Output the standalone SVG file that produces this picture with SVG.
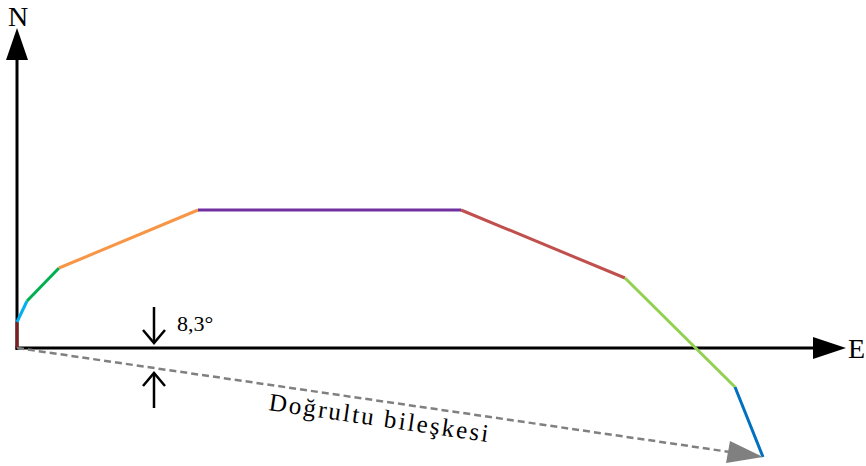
<svg xmlns="http://www.w3.org/2000/svg" width="866" height="466" viewBox="0 0 866 466">
<style>
.ax{stroke:#000;stroke-width:3;fill:none}
.seg{stroke-width:3;fill:none;stroke-linecap:butt}
.t{font-family:"Liberation Serif","Times New Roman",serif;fill:#000}
.ar{stroke:#000;stroke-width:2.5;fill:none}
</style>
<rect width="866" height="466" fill="#fff"/>
<g id="axes">
<line class="ax" x1="17" y1="350" x2="17" y2="58"/>
<polygon points="17,28 6,60 28,60" fill="#000"/>
<line class="ax" x1="15.5" y1="348" x2="815" y2="348"/>
<polygon points="846,348 813,337 813,359" fill="#000"/>
<text class="t" x="8" y="26" font-size="28">N</text>
<text class="t" x="848" y="358" font-size="28">E</text>
</g>
<g id="path">
<line class="seg" stroke="#7b1f1f" x1="17" y1="348" x2="17" y2="322"/>
<line class="seg" stroke="#00b0f0" x1="17" y1="322" x2="27" y2="301"/>
<line class="seg" stroke="#00b050" x1="27" y1="301" x2="59" y2="268"/>
<line class="seg" stroke="#f79646" x1="59" y1="268" x2="198" y2="210"/>
<line class="seg" stroke="#7030a0" x1="198" y1="210" x2="461" y2="210"/>
<line class="seg" stroke="#c0504d" x1="461" y1="210" x2="625" y2="278"/>
<line class="seg" stroke="#92d050" x1="625" y1="278" x2="735" y2="387"/>
<line class="seg" stroke="#0070c0" x1="735" y1="387" x2="763" y2="457"/>
</g>
<g id="resultant">
<line x1="17" y1="348" x2="730" y2="452" stroke="#808080" stroke-width="2.5" stroke-dasharray="7,4"/>
<polygon points="763,457 730,441 726,463" fill="#808080"/>
<text class="t" font-size="25" letter-spacing="2.2" transform="translate(268,410) rotate(8.3)">Doğrultu bileşkesi</text>
</g>
<g id="angle">
<line class="ar" x1="154" y1="307" x2="154" y2="343"/>
<polyline class="ar" points="143,330 154,343 165,330"/>
<line class="ar" x1="154" y1="373" x2="154" y2="408"/>
<polyline class="ar" points="143,386 154,373 165,386"/>
<text class="t" x="177" y="331" font-size="22">8,3°</text>
</g>
</svg>
